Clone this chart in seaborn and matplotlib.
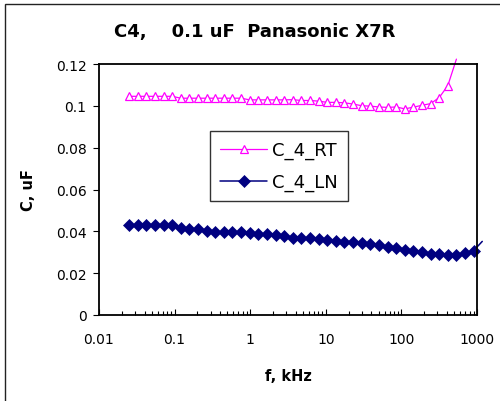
import matplotlib
matplotlib.use("Agg")
import matplotlib.pyplot as plt
import matplotlib.patches as mpatches
from matplotlib.ticker import FixedLocator, FuncFormatter, LogLocator, NullFormatter
import seaborn as sns
import pandas as pd

# Measurement frequencies, kHz (ratio 1.3 sweep)
freq_khz = [0.025, 0.0325, 0.04225, 0.05493, 0.07140, 0.09282, 0.1207, 0.1569,
            0.2039, 0.2651, 0.3446, 0.4480, 0.5824, 0.7572, 0.9843, 1.280,
            1.664, 2.163, 2.811, 3.655, 4.751, 6.177, 8.030, 10.44, 13.57,
            17.64, 22.93, 29.81, 38.76, 50.39, 65.50, 85.15, 110.7, 143.9,
            187.1, 243.2, 316.2, 411.0, 534.3, 694.6, 903.0, 1174.0]

# Capacitance, uF, room temperature
c_rt = [0.1046, 0.1046, 0.1046, 0.1046, 0.1046, 0.1046, 0.1037, 0.1037,
        0.1037, 0.1037, 0.1037, 0.1037, 0.1037, 0.1037, 0.1029, 0.1029,
        0.1029, 0.1029, 0.1029, 0.1030, 0.1026, 0.1026, 0.1023, 0.1017,
        0.1017, 0.1015, 0.1009, 0.1001, 0.0999, 0.0995, 0.0993, 0.0995,
        0.0986, 0.0994, 0.1003, 0.1011, 0.1040, 0.1097, 0.1224]

# Capacitance, uF, liquid nitrogen
c_ln = [0.0432, 0.0432, 0.0432, 0.0432, 0.0432, 0.0432, 0.0418, 0.0412,
        0.0410, 0.0402, 0.0396, 0.0396, 0.0398, 0.0397, 0.0391, 0.0388,
        0.0385, 0.0383, 0.0377, 0.0369, 0.0369, 0.0368, 0.0364, 0.0358,
        0.0354, 0.0351, 0.0350, 0.0344, 0.0340, 0.0333, 0.0326, 0.0321,
        0.0310, 0.0305, 0.0300, 0.0294, 0.0290, 0.0286, 0.0289, 0.0296,
        0.0308, 0.0352]

series_names = ["C_4_RT", "C_4_LN"]
title_text = "C4,    0.1 uF  Panasonic X7R"
x_label = "f, kHz"
y_label = "C, uF"
y_ticks = [0, 0.02, 0.04, 0.06, 0.08, 0.1, 0.12]
x_ticks = [0.01, 0.1, 1, 10, 100, 1000]

sns.set_theme(style="white")
plt.rcParams["font.family"] = ["DejaVu Sans"]
plt.rcParams["text.color"] = "black"
plt.rcParams["axes.labelcolor"] = "black"
plt.rcParams["xtick.color"] = "black"
plt.rcParams["ytick.color"] = "black"

fig = plt.figure(figsize=(5.0, 4.02), dpi=100)
ax = fig.add_axes([0.198, 0.214, 0.756, 0.624])

df_rt = pd.DataFrame({"f": freq_khz[:len(c_rt)], "C": c_rt})
df_ln = pd.DataFrame({"f": freq_khz[:len(c_ln)], "C": c_ln})

sns.lineplot(data=df_rt, x="f", y="C", ax=ax, color="#FF00FF", lw=0.9,
             marker="^", ms=6.0, mfc="white", mec="#FF00FF", mew=0.9,
             markevery=list(range(len(c_rt) - 1)), clip_on=False,
             label=series_names[0], estimator=None)
sns.lineplot(data=df_ln, x="f", y="C", ax=ax, color="#000080", lw=1.1,
             marker="D", ms=6.3, mfc="#000080", mec="#000080", mew=0.5,
             markevery=list(range(len(c_ln) - 1)), clip_on=False,
             label=series_names[1], estimator=None)

ax.set_xscale("log")
ax.set_xlim(0.01, 1000)
ax.set_ylim(0, 0.12)

fmt = FuncFormatter(lambda v, p: "%g" % v)
ax.xaxis.set_major_locator(FixedLocator(x_ticks))
ax.xaxis.set_major_formatter(fmt)
ax.xaxis.set_minor_locator(LogLocator(base=10, subs=range(2, 10), numticks=20))
ax.xaxis.set_minor_formatter(NullFormatter())
ax.yaxis.set_major_locator(FixedLocator(y_ticks))
ax.yaxis.set_major_formatter(fmt)

ax.tick_params(axis="x", which="major", direction="in", length=4, width=0.8,
               colors="black", labelsize=10, pad=12, bottom=True, top=False)
ax.tick_params(axis="x", which="minor", direction="in", length=3, width=0.8,
               colors="black", bottom=True, top=False)
ax.tick_params(axis="y", which="major", direction="out", length=4, width=0.8,
               colors="black", labelsize=10, pad=5, left=True, right=False)

for s in ax.spines.values():
    s.set_visible(True)
    s.set_color("black")
    s.set_linewidth(1.3)

ax.set_xlabel(x_label, fontsize=10.5, fontweight="bold", labelpad=16,
              color="black")
ax.set_ylabel(y_label, fontsize=10.5, fontweight="bold", labelpad=14,
              color="black")
fig.text(0.51, 0.92, title_text, ha="center", va="center",
         fontsize=13, fontweight="bold", color="black")

leg = ax.legend(loc="upper left", bbox_to_anchor=(0.294, 0.733),
                borderaxespad=0, fontsize=13, frameon=True, fancybox=False,
                edgecolor="black", handlelength=2.6, handletextpad=0.3,
                labelspacing=0.75, borderpad=0.55)
leg.get_frame().set_linewidth(1.0)
for t in leg.get_texts():
    t.set_color("black")

# outer chart border
fig.patches.append(mpatches.Rectangle((5 / 500, -0.1), 1.2, 1.1 - 5 / 402,
                                      transform=fig.transFigure, fill=False,
                                      edgecolor="#222222", lw=1.0))

fig.savefig("out.png", dpi=100)
